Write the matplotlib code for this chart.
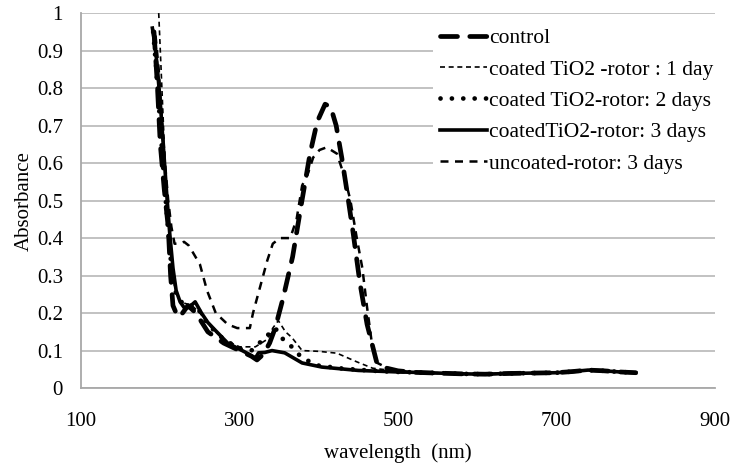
import numpy as np
import matplotlib
matplotlib.use("Agg")
import matplotlib.pyplot as plt

# Absorbance spectra (wavelength in nm)
control_nm = [192, 196, 200, 205, 210, 213, 216, 222, 228, 235, 245, 260, 280, 300, 315, 322,
              330, 338, 345, 355, 367, 378, 389, 398, 408, 415, 422, 429, 436, 443, 452, 461,
              467, 473, 486, 500]
control_abs = [0.95, 0.82, 0.65, 0.53, 0.43, 0.30, 0.22, 0.19, 0.20, 0.22, 0.20, 0.15, 0.12, 0.10,
               0.085, 0.075, 0.09, 0.12, 0.16, 0.24, 0.35, 0.49, 0.625, 0.71, 0.757, 0.75, 0.70,
               0.615, 0.52, 0.42, 0.28, 0.17, 0.12, 0.07, 0.053, 0.046]

day1_nm = [198, 200, 203, 206, 210, 214, 218, 225, 240, 250, 265, 280, 300, 320, 335, 342, 349,
           358, 366, 379, 400, 423, 448, 468, 500]
day1_abs = [1.0, 0.90, 0.75, 0.60, 0.45, 0.33, 0.27, 0.23, 0.22, 0.20, 0.16, 0.13, 0.11, 0.11,
            0.13, 0.16, 0.18, 0.15, 0.135, 0.10, 0.098, 0.093, 0.07, 0.053, 0.045]

day2_nm = [191, 195, 200, 205, 210, 215, 220, 230, 245, 260, 280, 300, 315, 325, 335, 345, 355,
           366, 379, 400, 430, 470, 500]
day2_abs = [0.95, 0.85, 0.70, 0.55, 0.42, 0.30, 0.25, 0.22, 0.22, 0.17, 0.13, 0.105, 0.10, 0.12,
            0.14, 0.16, 0.13, 0.11, 0.08, 0.06, 0.052, 0.046, 0.043]

day3_nm = [190, 193, 196, 200, 204, 208, 212, 216, 220, 225, 230, 236, 244, 252, 260, 269, 285,
           307, 320, 324, 332, 341, 357, 379, 404, 450, 500]
day3_abs = [0.96, 0.92, 0.86, 0.76, 0.64, 0.52, 0.41, 0.32, 0.26, 0.23, 0.215, 0.215, 0.23, 0.20,
            0.175, 0.155, 0.12, 0.096, 0.08, 0.094, 0.095, 0.10, 0.094, 0.067, 0.056, 0.047, 0.043]

uncoated_nm = [194, 198, 202, 206, 210, 214, 218, 224, 230, 236, 250, 259, 270, 285, 297, 313,
               317, 326, 335, 342, 351, 364, 372, 379, 386, 393, 401, 410, 423, 433, 440, 448,
               455, 461, 467, 474, 490, 500]
uncoated_abs = [0.94, 0.85, 0.72, 0.60, 0.50, 0.43, 0.385, 0.385, 0.39, 0.38, 0.33, 0.26, 0.20,
                0.17, 0.16, 0.16, 0.20, 0.27, 0.34, 0.385, 0.40, 0.40, 0.45, 0.54, 0.57, 0.615,
                0.635, 0.642, 0.625, 0.56, 0.50, 0.40, 0.32, 0.215, 0.12, 0.067, 0.05, 0.046]

# flat tail shared by all spectra (they overlap above 500 nm)
tail_nm = [520, 550, 580, 610, 640, 670, 700, 720, 740, 760, 780, 800]
tail_abs = [0.042, 0.040, 0.038, 0.037, 0.039, 0.040, 0.041, 0.044, 0.048, 0.046, 0.043, 0.041]

labels = ["control", "coated TiO2 -rotor : 1 day", "coated TiO2-rotor: 2 days",
          "coatedTiO2-rotor: 3 days", "uncoated-rotor: 3 days"]

plt.rcParams['font.family'] = ['Liberation Serif', 'DejaVu Serif']

fig = plt.figure(figsize=(7.37, 4.67), dpi=100)
ax = fig.add_axes([0.110, 0.169, 0.860, 0.803])

series = [(control_nm, control_abs), (day1_nm, day1_abs), (day2_nm, day2_abs),
          (day3_nm, day3_abs), (uncoated_nm, uncoated_abs)]
styles = [
    dict(lw=3.4, linestyle=(0, (3.6, 2.6)), dash_capstyle='round'),
    dict(lw=1.2, linestyle=(0, (3.0, 2.2))),
    dict(lw=3.4, linestyle=(0, (0.01, 2.4)), dash_capstyle='round'),
    dict(lw=2.6, linestyle='-'),
    dict(lw=1.8, linestyle=(0, (3.2, 2.6))),
]

for (xs, ys), st, lab in zip(series, styles, labels):
    ax.plot(list(xs) + tail_nm, list(ys) + tail_abs, color='black', label=lab, **st)

ax.set_xlim(100, 900)
ax.set_ylim(0, 1)
ax.set_xticks([100, 300, 500, 700, 900])
ax.set_yticks(np.arange(0, 1.01, 0.1))
ax.set_yticklabels(['0', '0.1', '0.2', '0.3', '0.4', '0.5', '0.6', '0.7', '0.8', '0.9', '1'])
ax.grid(axis='y', color='#bdbdbd', lw=1.3)
ax.set_axisbelow(True)
for s in ['top', 'right']:
    ax.spines[s].set_visible(False)
for s in ['left', 'bottom']:
    ax.spines[s].set_color('#a8a8a8')
    ax.spines[s].set_linewidth(1.3)
ax.tick_params(length=0, labelsize=15, colors='black')
ax.tick_params(axis='y', pad=13)
ax.tick_params(axis='x', pad=17)
ax.set_xlabel('wavelength  (nm)', fontsize=15, labelpad=9)
ax.set_ylabel('Absorbance', fontsize=15, labelpad=2)

leg = ax.legend(loc='upper right', bbox_to_anchor=(1.025, 1.005), fontsize=15.5,
                frameon=True, facecolor='white', edgecolor='none', framealpha=1,
                handlelength=2.2, handletextpad=0.1, labelspacing=0.52,
                borderpad=0.3, fancybox=False)

plt.savefig('out.png', dpi=100)
